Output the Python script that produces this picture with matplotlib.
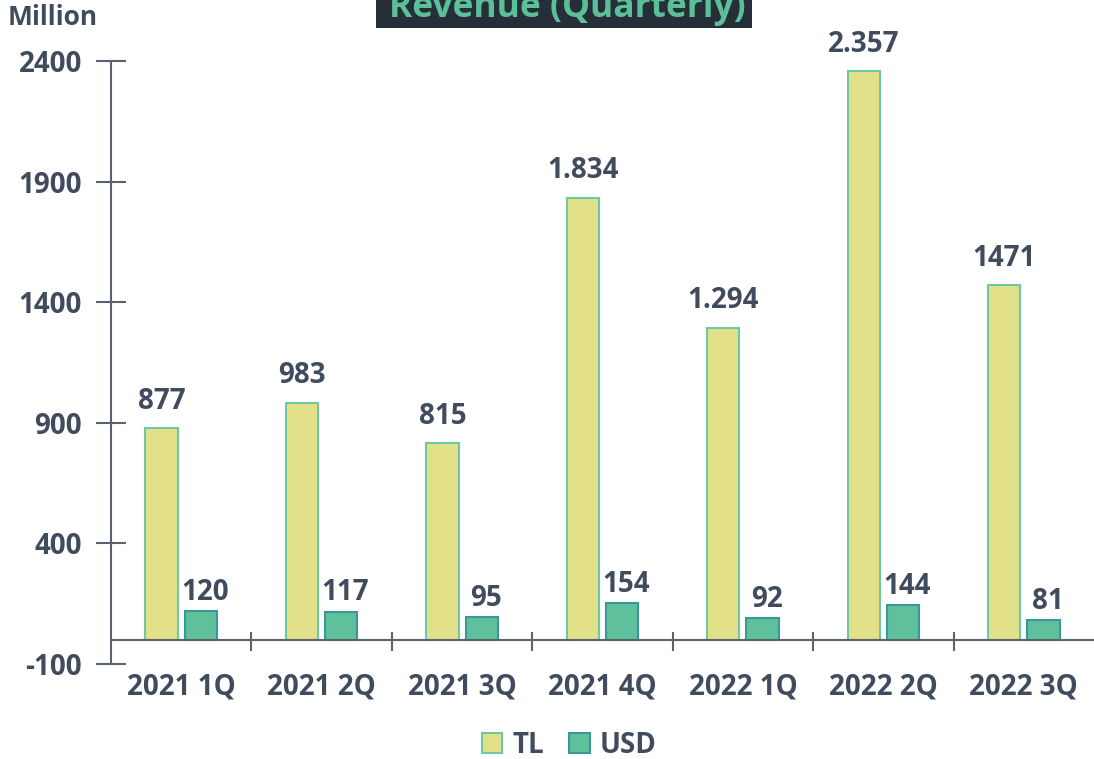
import numpy as np
import matplotlib
matplotlib.use("Agg")
from matplotlib import pyplot as plt
from matplotlib.patches import Rectangle

plt.rcParams['font.family'] = ['Open Sans', 'DejaVu Sans']
plt.rcParams['font.weight'] = 'bold'

quarters = ["2021 1Q", "2021 2Q", "2021 3Q", "2021 4Q", "2022 1Q", "2022 2Q", "2022 3Q"]
tl_values = [877, 983, 815, 1834, 1294, 2357, 1471]
usd_values = [120, 117, 95, 154, 92, 144, 81]
tl_labels = ["877", "983", "815", "1.834", "1.294", "2.357", "1471"]
usd_labels = ["120", "117", "95", "154", "92", "144", "81"]
y_ticks = [-100, 400, 900, 1400, 1900, 2400]

text_col = "#404b5e"
axis_col = "#5a6470"

fig = plt.figure(figsize=(10.94, 7.59), dpi=100)
ax = fig.add_axes([0.1015, 0.1252, 0.8985, 0.7944])

x = np.arange(len(quarters))
w = 0.23
ax.bar(x - 0.14, tl_values, w, color="#e3e08a", edgecolor="#6cc9a4", linewidth=1.5, label="TL", zorder=3)
ax.bar(x + 0.14, usd_values, w, color="#5fc09c", edgecolor="#3b9898", linewidth=1.5, label="USD", zorder=3)

for xi, v, s in zip(x, tl_values, tl_labels):
    ax.annotate(s, (xi - 0.14, v), xytext=(0, 9), textcoords="offset points",
                ha="center", va="bottom", fontsize=20, fontweight="bold", color=text_col)
for xi, v, s in zip(x, usd_values, usd_labels):
    ax.annotate(s, (xi + 0.14, v), xytext=(3, 3), textcoords="offset points",
                ha="center", va="bottom", fontsize=20, fontweight="bold", color=text_col)

ax.set_xlim(-0.5, len(quarters) - 0.5)
ax.set_ylim(-100, 2400)
ax.set_yticks(y_ticks)
ax.set_yticklabels([str(t) for t in y_ticks], fontsize=20, fontweight="bold", color=text_col)
ax.tick_params(axis="y", direction="inout", length=22, width=1.5, color=axis_col, pad=10)

ax.set_xticks(x)
ax.set_xticklabels(quarters, fontsize=20, fontweight="bold", color=text_col)
ax.tick_params(axis="x", length=0, pad=6)

# category axis at zero with boundary ticks
ax.axhline(0, color=axis_col, linewidth=1.5, zorder=4)
ax.vlines(x[:-1] + 0.5, -45, 33, color=axis_col, linewidth=1.5, zorder=4)

for side in ["top", "right", "bottom"]:
    ax.spines[side].set_visible(False)
ax.spines["left"].set_color(axis_col)
ax.spines["left"].set_linewidth(1.5)

fig.text(0.007, 0.977, "Million", fontsize=19, fontweight="bold", color=text_col, va="center", ha="left")

# title box, clipped at the top as in the source
fig.patches.append(Rectangle((376 / 1094, 1 - 28 / 759), 376 / 1094, 28 / 759,
                             transform=fig.transFigure, facecolor="#262e38", edgecolor="none"))
fig.text(567 / 1094, 1 - 17 / 759, "Revenue (Quarterly)", fontsize=25.5, fontweight="bold",
         color="#5bbf97", ha="center", va="baseline")

fig.legend(loc="center", bbox_to_anchor=(0.52, 0.018), ncol=2, frameon=False,
           prop={"size": 20, "weight": "bold"}, labelcolor=text_col,
           handlelength=0.75, handleheight=0.75, handletextpad=0.35, columnspacing=0.9)

fig.savefig("out.png", dpi=100)
